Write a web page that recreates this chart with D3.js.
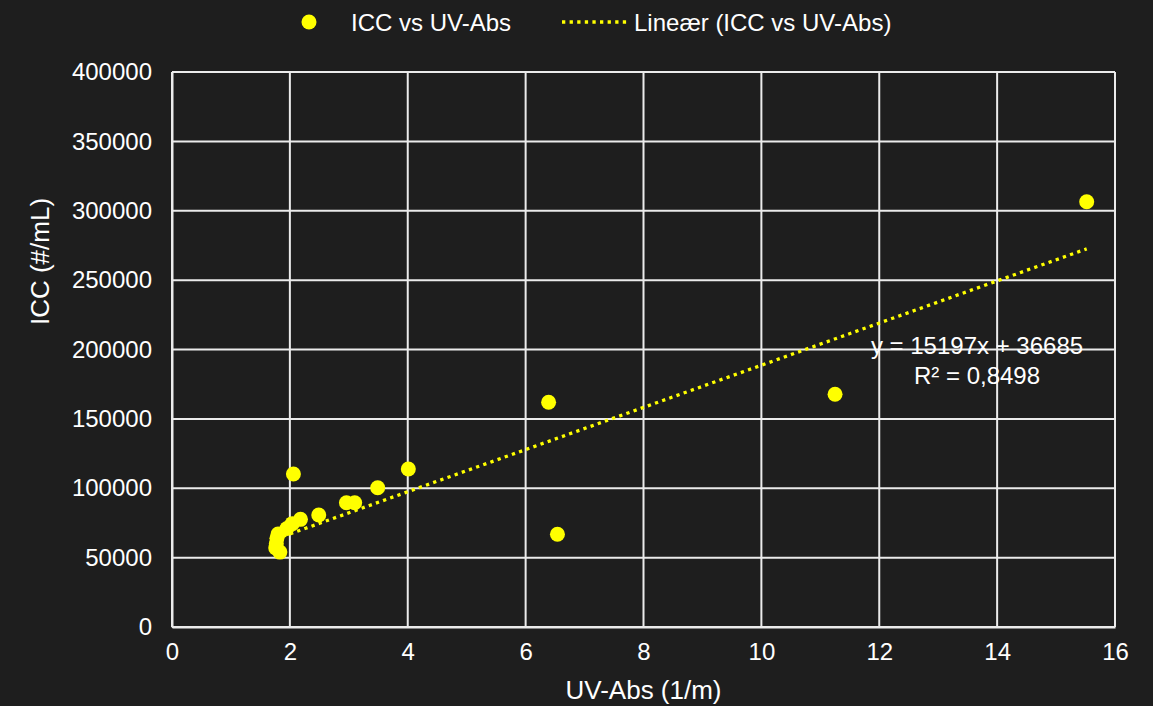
<!DOCTYPE html>
<html>
<head>
<meta charset="utf-8">
<script src="https://cdn.jsdelivr.net/npm/d3@7"></script>
<style>
  html, body { margin: 0; padding: 0; background: #1e1e1e; }
  svg { display: block; font-family: "Liberation Sans", Arial, sans-serif; }
</style>
</head>
<body>
<svg id="chart" width="1153" height="706"></svg>
<script>
// UV absorbance (1/m) against intact cell count (#/mL)
const uvAbs = [1.77, 1.76, 1.78, 1.83, 1.80, 1.95, 2.04, 2.18, 2.06, 2.49, 2.96, 3.10, 3.49, 4.01, 6.39, 6.54, 11.25, 15.52];
const icc   = [60000, 57000, 64000, 54000, 67000, 71000, 74500, 77600, 110300, 80700, 89600, 89600, 100400, 113900, 162000, 66800, 167700, 306500];

// Linear trend reported on the chart
const slope = 15197;
const intercept = 36685;
const rSquared = "0,8498";

const xTicks = [0, 2, 4, 6, 8, 10, 12, 14, 16];
const yTicks = [0, 50000, 100000, 150000, 200000, 250000, 300000, 350000, 400000];

const seriesName = "ICC vs UV-Abs";
const trendName = "Lineær (ICC vs UV-Abs)";
const xTitle = "UV-Abs (1/m)";
const yTitle = "ICC (#/mL)";

const W = 1153, H = 706;
const m = { left: 172, right: 1115, top: 72, bottom: 627 };
const yellow = "#ffff00";
const white = "#ffffff";
const gridColor = "#ebebeb";

const svg = d3.select("#chart");
svg.append("rect").attr("width", W).attr("height", H).attr("fill", "#1e1e1e");

const x = d3.scaleLinear().domain([0, 16]).range([m.left, m.right]);
const y = d3.scaleLinear().domain([0, 400000]).range([m.bottom, m.top]);

// Gridlines
const grid = svg.append("g");
grid.selectAll("line.gx").data(xTicks).join("line")
  .attr("x1", d => x(d)).attr("x2", d => x(d))
  .attr("y1", m.top).attr("y2", m.bottom)
  .attr("stroke", gridColor).attr("stroke-width", 2);
grid.selectAll("line.gy").data(yTicks).join("line")
  .attr("x1", m.left).attr("x2", m.right)
  .attr("y1", d => y(d)).attr("y2", d => y(d))
  .attr("stroke", gridColor).attr("stroke-width", 2);

// Axes
const xAxis = svg.append("g").attr("transform", `translate(0,${m.bottom})`)
  .call(d3.axisBottom(x).tickValues(xTicks).tickSize(0).tickPadding(16).tickFormat(d3.format("d")));
const yAxis = svg.append("g").attr("transform", `translate(${m.left},0)`)
  .call(d3.axisLeft(y).tickValues(yTicks).tickSize(0).tickPadding(20).tickFormat(d3.format("d")));
[xAxis, yAxis].forEach(a => {
  a.select(".domain").attr("stroke", gridColor).attr("stroke-width", 2);
  a.selectAll("text").attr("fill", white).attr("font-size", 24)
    .attr("font-family", "'Liberation Sans', Arial, sans-serif");
});

// Axis titles
svg.append("text").attr("x", (m.left + m.right) / 2).attr("y", 699)
  .attr("text-anchor", "middle").attr("fill", white).attr("font-size", 26).text(xTitle);
svg.append("text").attr("transform", `translate(49,${(m.top + m.bottom) / 2 - 88}) rotate(-90)`)
  .attr("text-anchor", "middle").attr("fill", white).attr("font-size", 26).text(yTitle);

// Trend line across the data range
const xMin = d3.min(uvAbs), xMax = d3.max(uvAbs);
const trend = [xMin, xMax].map(v => [v, slope * v + intercept]);
svg.append("path")
  .datum(trend)
  .attr("d", d3.line().x(d => x(d[0])).y(d => y(d[1])))
  .attr("fill", "none").attr("stroke", yellow).attr("stroke-width", 3.3)
  .attr("stroke-dasharray", "3.3 4.3");

// Points
svg.append("g").selectAll("circle").data(uvAbs.map((v, i) => [v, icc[i]])).join("circle")
  .attr("cx", d => x(d[0])).attr("cy", d => y(d[1])).attr("r", 7.5)
  .attr("fill", yellow);

// Trend equation
const eq = svg.append("g").attr("fill", white).attr("font-size", 24).attr("text-anchor", "middle");
eq.append("text").attr("x", 977).attr("y", 354).text(`y = ${slope}x + ${intercept}`);
eq.append("text").attr("x", 977).attr("y", 384).text(`R² = ${rSquared}`);

// Legend
const lg = svg.append("g").attr("font-size", 24).attr("fill", white);
lg.append("circle").attr("cx", 309).attr("cy", 22).attr("r", 7.5).attr("fill", yellow);
lg.append("text").attr("x", 351).attr("y", 30.5).text(seriesName);
lg.append("line").attr("x1", 562).attr("x2", 627).attr("y1", 22).attr("y2", 22)
  .attr("stroke", yellow).attr("stroke-width", 3.3).attr("stroke-dasharray", "3.3 4.3");
lg.append("text").attr("x", 634).attr("y", 30.5).text(trendName);
</script>
</body>
</html>
